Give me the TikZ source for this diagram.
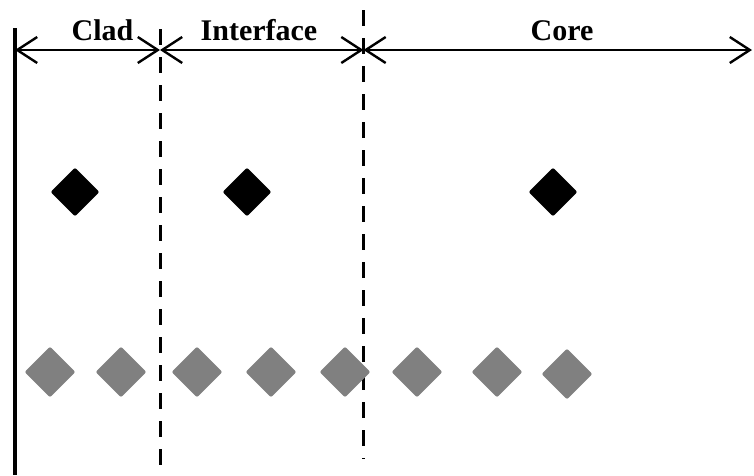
\documentclass[tikz,border=0pt]{standalone}
\usepackage{fontspec}
\setmainfont{Liberation Serif}
\usetikzlibrary{arrows.meta,shapes.geometric}
\tikzset{
  lbl/.style={font=\fontsize{30}{35}\selectfont\bfseries, anchor=base, inner sep=0pt},
  dim/.style={line width=2.4pt, {Straight Barb[length=20pt,width=26pt]}-{Straight Barb[length=20pt,width=26pt]}},
  bound/.style={line width=3pt, dash pattern=on 16pt off 12pt},
  bigdia/.style={diamond, fill=black, minimum size=49pt, inner sep=0pt, rounded corners=2pt},
  smalldia/.style={diamond, fill=gray, minimum size=51pt, inner sep=0pt, rounded corners=2pt}
}
\begin{document}
\begin{tikzpicture}[x=1pt,y=-1pt]
\useasboundingbox (0,0) rectangle (754,475);
% boundaries
\coordinate (wt) at (15,28);
\coordinate (wb) at (15,475);
\draw[line width=3.2pt] (wt) -- (wb);
\coordinate (d1t) at (160,29);
\coordinate (d1b) at (160,466);
\draw[bound] (d1t) -- (d1b);
\coordinate (d2t) at (363.5,10);
\coordinate (d2b) at (363.5,459);
\draw[bound] (d2t) -- (d2b);
% dimension arrows
\coordinate (a0) at (15,50);
\coordinate (a1) at (160,50);
\coordinate (a2) at (363.5,50);
\coordinate (a3) at (752,50);
\draw[dim] (a0) -- (a1);
\draw[dim] (a1) -- (a2);
\draw[dim] (a2) -- (a3);
% labels
\node[lbl] (clad) at (102.5,40) {Clad};
\node[lbl] (intf) at (259,40) {Interface};
\node[lbl] (core) at (562,40) {Core};
% black diamonds
\node[bigdia] (b1) at (75,192) {};
\node[bigdia] (b2) at (247,192) {};
\node[bigdia] (b3) at (553,192) {};
% gray diamonds
\node[smalldia] (g1) at (50,372) {};
\node[smalldia] (g2) at (121,372) {};
\node[smalldia] (g3) at (197,372) {};
\node[smalldia] (g4) at (271,372) {};
\node[smalldia] (g5) at (345,372) {};
\node[smalldia] (g6) at (417,372) {};
\node[smalldia] (g7) at (497,372) {};
\node[smalldia] (g8) at (567,374) {};
\end{tikzpicture}
\end{document}
